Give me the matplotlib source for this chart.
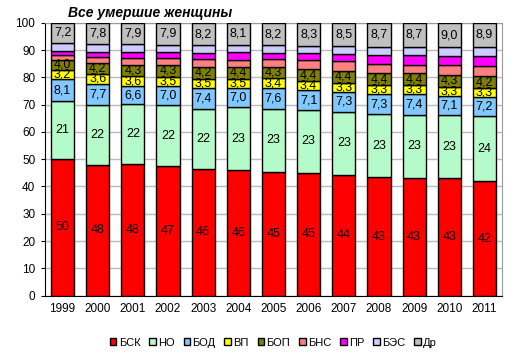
import numpy as np
import matplotlib.pyplot as plt

plt.rcParams['font.family'] = ['Liberation Sans', 'DejaVu Sans']

years = ['1999', '2000', '2001', '2002', '2003', '2004', '2005',
         '2006', '2007', '2008', '2009', '2010', '2011']

# доли причин смерти, % (снизу вверх)
bsk = [50, 48, 48, 47, 46, 46, 45, 45, 44, 43, 43, 43, 42]
no = [21, 22, 22, 22, 22, 23, 23, 23, 23, 23, 23, 23, 24]
bod = [8.1, 7.7, 6.6, 7.0, 7.4, 7.0, 7.6, 7.1, 7.3, 7.3, 7.4, 7.1, 7.2]
vp = [3.2, 3.6, 3.6, 3.5, 3.5, 3.5, 3.4, 3.4, 3.3, 3.3, 3.3, 3.3, 3.3]
bop = [4.0, 4.2, 4.3, 4.3, 4.2, 4.4, 4.3, 4.4, 4.4, 4.4, 4.4, 4.3, 4.2]
bns = [1.8, 2.2, 2.3, 2.4, 3.0, 2.6, 2.6, 3.2, 3.5, 3.4, 3.2, 3.5, 3.9]
pr = [1.3, 1.8, 2.3, 2.1, 2.2, 2.8, 2.2, 2.8, 2.6, 3.1, 3.4, 3.4, 3.7]
bes = [3.1, 2.8, 2.8, 2.8, 2.7, 2.6, 2.9, 2.6, 2.9, 3.1, 3.1, 3.1, 3.2]
dr = [7.2, 7.8, 7.9, 7.9, 8.2, 8.1, 8.2, 8.3, 8.5, 8.7, 8.7, 9.0, 8.9]

names = ['БСК', 'НО', 'БОД', 'ВП', 'БОП', 'БНС', 'ПР', 'БЭС', 'Др']
series = [bsk, no, bod, vp, bop, bns, pr, bes, dr]
colors = ['#FF0000', '#B5FBC9', '#80C8FF', '#FFFF00', '#808000',
          '#FF8080', '#FF00FF', '#CCCCFF', '#C0C0C0']
# какие ряды подписаны и в каком формате
fmt = ['{:.0f}', '{:.0f}', '{:.1f}', '{:.1f}', '{:.1f}', None, None, None, '{:.1f}']

data = np.array(series, dtype=float)
shares = data / data.sum(axis=0) * 100  # столбцы до 100 %

fig = plt.figure(figsize=(5.17, 3.57), dpi=100)
ax = fig.add_axes([0.087, 0.172, 0.884, 0.764])

x = np.arange(len(years))
bottom = np.zeros(len(years))
for name, raw, h, c, f in zip(names, data, shares, colors, fmt):
    ax.bar(x, h, 0.66, bottom=bottom, color=c, edgecolor='black',
           linewidth=1, label=name, zorder=3)
    if f:
        for i in range(len(x)):
            ax.text(x[i], bottom[i] + h[i] / 2, f.format(raw[i]).replace('.', ','),
                    ha='center', va='center', fontsize=9, zorder=4)
    bottom += h

ax.set_xlim(-0.5, len(years) - 0.5)
ax.set_ylim(0, 100)
ax.set_yticks(range(0, 101, 10))
ax.set_xticks(x)
ax.set_xticklabels(years)
ax.tick_params(axis='both', labelsize=8.5)
ax.tick_params(axis='x', length=0, pad=5)
ax.tick_params(axis='y', length=3, direction='out', pad=4)
ax.yaxis.grid(True, color='#BBBBBB', linewidth=1)
ax.set_axisbelow(True)
for s in ['left', 'bottom']:
    ax.spines[s].set_color('black')
for s in ['top', 'right']:
    ax.spines[s].set_color('#999999')

fig.text(0.132, 0.963, 'Все умершие женщины', fontsize=10,
         fontweight='bold', fontstyle='italic', va='center')

ax.legend(loc='center', bbox_to_anchor=(0.5, -0.172), ncol=9, frameon=False,
          fontsize=8, handlelength=0.6, handleheight=0.6, handletextpad=0.2,
          columnspacing=0.8)

fig.savefig('out.png', dpi=100)
